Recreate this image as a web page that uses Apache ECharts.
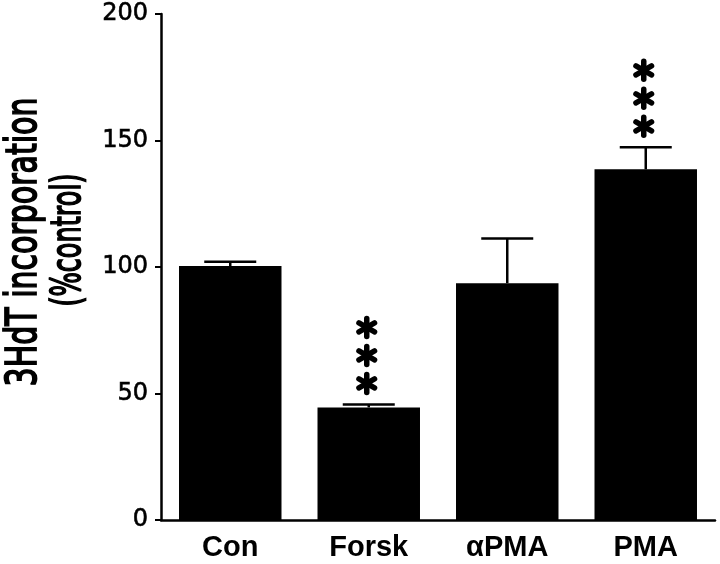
<!DOCTYPE html>
<html>
<head>
<meta charset="utf-8">
<script src="https://cdn.jsdelivr.net/npm/echarts@6/dist/echarts.min.js"></script>
<style>html,body{margin:0;padding:0;background:#fff}#c{width:720px;height:564px}</style>
</head>
<body>
<div id="c"></div>
<script>
const categories = ['Con', 'Forsk', '\u03B1PMA', 'PMA'];
const means = [100.4, 44.5, 93.6, 138.6];
const errorTops = [102.1, 45.7, 111.3, 147.3];
const starCounts = [0, 3, 0, 3];
const yTicks = [0, 50, 100, 150, 200];
const yTitleLine1 = '3HdT incorporation';
const yTitleLine2 = '(%control)';

const chart = echarts.init(document.getElementById('c'), null, {renderer: 'canvas'});

const errData = categories.map((c, i) => [i, means[i], errorTops[i]]);
const starData = categories.map((c, i) => [i, errorTops[i], starCounts[i]]);

function asterisk(cx, cy) {
  const r = 9;
  const els = [];
  [90, 30, 150].forEach(a => {
    const rad = a * Math.PI / 180;
    const dx = r * Math.cos(rad), dy = r * Math.sin(rad);
    els.push({
      type: 'line',
      shape: {x1: cx - dx, y1: cy + dy, x2: cx + dx, y2: cy - dy},
      style: {stroke: '#000', lineWidth: 5.5, lineCap: 'round'}
    });
  });
  return els;
}

chart.setOption({
  animation: false,
  backgroundColor: '#fff',
  grid: {left: 161, right: 5, top: 14, bottom: 44},
  xAxis: {
    type: 'category',
    data: categories,
    axisLine: {lineStyle: {color: '#000', width: 2.5}},
    axisTick: {show: false},
    axisLabel: {
      color: '#000', fontFamily: 'Liberation Sans', fontWeight: 'bold',
      fontSize: 29, margin: 13
    }
  },
  yAxis: {
    type: 'value',
    min: yTicks[0], max: yTicks[yTicks.length - 1], interval: 50,
    splitLine: {show: false},
    axisLine: {show: true, lineStyle: {color: '#000', width: 2.5}},
    axisTick: {show: true, length: 6, lineStyle: {color: '#000', width: 2}},
    axisLabel: {color: '#000', fontFamily: 'DejaVu Sans', fontSize: 24, margin: 13,
                textBorderColor: '#000', textBorderWidth: 0.6}
  },
  graphic: [
    {
      type: 'text', x: 25, y: 242, rotation: Math.PI / 2, scaleX: 0.715,
      style: {text: yTitleLine1, font: '42px "DejaVu Sans"', fill: '#000',
              stroke: '#000', lineWidth: 1.8,
              textAlign: 'center', textVerticalAlign: 'middle'}
    },
    {
      type: 'text', x: 70, y: 240, rotation: Math.PI / 2, scaleX: 0.64,
      style: {text: yTitleLine2, font: '40px "DejaVu Sans"', fill: '#000',
              stroke: '#000', lineWidth: 1.8,
              textAlign: 'center', textVerticalAlign: 'middle'}
    }
  ],
  series: [
    {
      type: 'bar',
      data: means,
      barWidth: '74%',
      itemStyle: {color: '#000'},
      z: 2
    },
    {
      type: 'custom',
      data: errData,
      z: 3,
      renderItem: function (params, api) {
        const i = api.value(0);
        const lo = api.coord([i, api.value(1)]);
        const hi = api.coord([i, api.value(2)]);
        const half = 26;
        return {
          type: 'group',
          children: [
            {type: 'line', shape: {x1: lo[0], y1: lo[1], x2: hi[0], y2: hi[1]},
             style: {stroke: '#000', lineWidth: 2.5}},
            {type: 'line', shape: {x1: hi[0] - half, y1: hi[1], x2: hi[0] + half, y2: hi[1]},
             style: {stroke: '#000', lineWidth: 2.5}}
          ]
        };
      }
    },
    {
      type: 'custom',
      data: starData,
      z: 4,
      renderItem: function (params, api) {
        const i = api.value(0);
        const n = api.value(2);
        const p = api.coord([i, api.value(1)]);
        let children = [];
        for (let k = 0; k < n; k++) {
          children = children.concat(asterisk(p[0] - 2, p[1] - 21 - 28 * k));
        }
        return {type: 'group', children: children};
      }
    }
  ]
});
</script>
</body>
</html>
